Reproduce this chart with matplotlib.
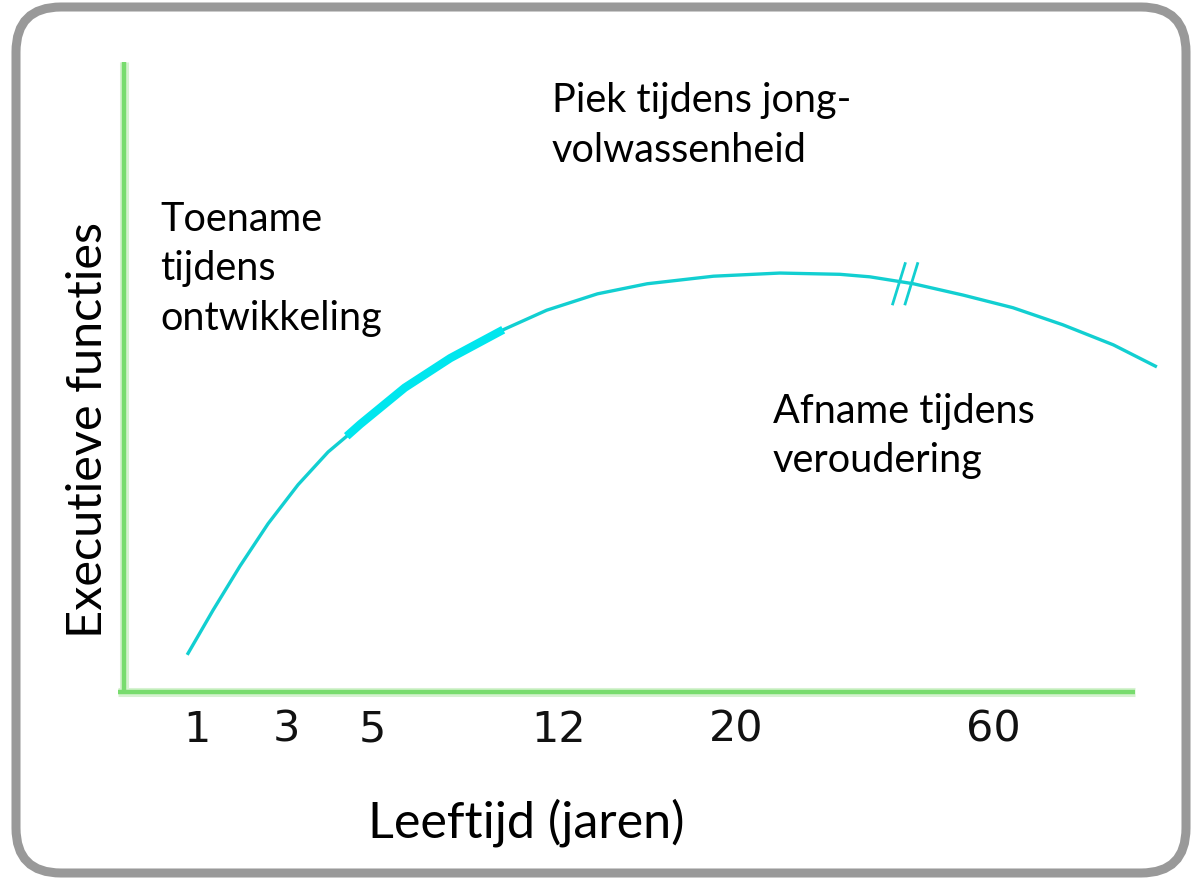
import matplotlib
matplotlib.use('Agg')
import matplotlib.pyplot as plt
from matplotlib.patches import FancyBboxPatch

# Schematische curve (positie-eenheden 0-100 op beide assen)
curve_x = [6.1, 8.6, 11.2, 13.9, 16.8, 19.7, 21.5, 22.8, 27.1, 31.5, 36.6, 40.8,
           45.7, 50.5, 56.9, 63.3, 69.1, 72.0, 76.2, 81.0, 85.8, 90.6, 95.5, 99.7]
curve_y = [5.9, 13.0, 20.0, 26.7, 32.9, 38.1, 40.6, 42.5, 48.3, 53.0, 57.5, 60.6,
           63.2, 64.8, 66.0, 66.5, 66.3, 65.9, 64.8, 63.0, 61.0, 58.3, 55.1, 51.6]
thick_from, thick_to = 21.5, 36.6
break_x, break_y = 75.3, 64.8

tick_pos = [7.0, 15.7, 24.0, 41.9, 59.1, 83.9]
tick_labels = ["1", "3", "5", "12", "20", "60"]

ylabel = "Executieve functies"
xlabel = "Leeftijd (jaren)"
notes = [
    ("Toename\ntijdens\nontwikkeling", 3.5, 78.0),
    ("Piek tijdens jong-\nvolwassenheid", 41.3, 96.8),
    ("Afname tijdens\nveroudering", 62.6, 47.5),
]

GREEN = '#78dc6e'
HALO = '#d6f2d1'
CYAN = '#12cfd1'
CYAN_HI = '#00e6ee'
FONT = ['Lato', 'DejaVu Sans']

W, H = 1197, 881
fig = plt.figure(figsize=(W / 100, H / 100), dpi=100)

# Kader met ronde hoeken
bg = fig.add_axes([0, 0, 1, 1])
bg.set_xlim(0, W)
bg.set_ylim(H, 0)
bg.axis('off')
bg.add_patch(FancyBboxPatch((16, 7), 1170, 866, boxstyle='round,pad=0,rounding_size=45',
                            facecolor='white', edgecolor='#999999', linewidth=6.5))

ax = fig.add_axes([124 / W, (H - 692) / H, 1036 / W, 630 / H])
ax.set_xlim(0, 100)
ax.set_ylim(0, 100)
ax.patch.set_alpha(0)
for s in ax.spines.values():
    s.set_visible(False)

# Assen (groen met lichte rand)
for lw, col in [(6.5, HALO), (3.2, GREEN)]:
    ax.plot([0, 0], [0, 100], color=col, lw=lw, solid_capstyle='butt', clip_on=False)
    ax.plot([-0.6, 97.6], [0, 0], color=col, lw=lw, solid_capstyle='butt', clip_on=False)

# Curve
ax.plot(curve_x, curve_y, color=CYAN, lw=2.4, solid_capstyle='butt',
        solid_joinstyle='round', clip_on=False)
tx = [x for x in curve_x if thick_from <= x <= thick_to]
ty = [y for x, y in zip(curve_x, curve_y) if thick_from <= x <= thick_to]
ax.plot(tx, ty, color=CYAN_HI, lw=6, solid_capstyle='butt',
        solid_joinstyle='round', clip_on=False)

# Breuk-teken //
for dx in (-0.5, 0.7):
    ax.plot([break_x + dx - 0.6, break_x + dx + 0.6], [break_y - 3.2, break_y + 3.2],
            color=CYAN, lw=2.0, clip_on=False)

ax.set_xticks(tick_pos)
ax.set_xticklabels(tick_labels, family=['DejaVu Sans'], fontsize=31, color='#111111')
ax.tick_params(axis='x', length=0, pad=12)
ax.set_yticks([])

ax.text(-3.5, 41.6, ylabel, rotation=90, ha='center', va='center',
        fontsize=35, family=FONT, clip_on=False)
ax.text(23.6, -20.8, xlabel, ha='left', va='center', fontsize=36.2, family=FONT,
        clip_on=False)

for txt, x, y in notes:
    ax.text(x, y, txt, ha='left', va='top', fontsize=28.5, family=FONT,
            linespacing=1.42, clip_on=False)

fig.savefig('out.png', dpi=100)
